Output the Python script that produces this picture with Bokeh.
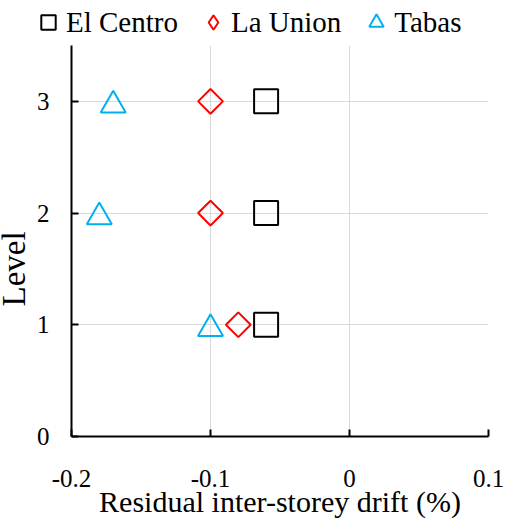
import math
from bokeh.plotting import figure
from bokeh.layouts import column, row
from bokeh.models import (ColumnDataSource, FixedTicker, Legend, LegendItem, Label)
from bokeh.transform import dodge
from bokeh.embed import file_html
from bokeh.resources import INLINE

# ---- data ----
levels = [1, 2, 3]
el_centro = [-0.06, -0.06, -0.06]
la_union = [-0.08, -0.10, -0.10]
tabas = [-0.10, -0.18, -0.17]
series_names = ["El Centro", "La Union", "Tabas"]
series_colors = ["black", "#ff0000", "#00b0f0"]
x_ticks = [-0.2, -0.1, 0, 0.1]
x_tick_labels = ["-0.2", "-0.1", "0", "0.1"]
y_ticks = [0, 1, 2, 3]
x_title = "Residual inter-storey drift (%)"
y_title = "Level"

FONT = "Liberation Serif"


def bare(width, height, **kw):
    f = figure(width=width, height=height, output_backend="svg",
               toolbar_location=None, x_axis_type=None, y_axis_type=None,
               min_border=0, min_border_left=0, min_border_right=0,
               min_border_top=0, min_border_bottom=0, **kw)
    f.title.visible = False
    f.outline_line_color = None
    return f


# ---- main plot ----
p = figure(frame_width=417, frame_height=391, x_range=(-0.2, 0.1), y_range=(0, 3.5),
           output_backend="svg", toolbar_location=None,
           min_border_left=39, min_border_right=22, min_border_top=0,
           min_border_bottom=90)
p.title.visible = False
p.outline_line_color = None
p.background_fill_color = "white"

src = ColumnDataSource(dict(level=levels, el=el_centro, lu=la_union, tb=tabas,
                            ang=[math.pi / 4] * len(levels)))

p.scatter("el", "level", source=src, marker="square", size=24,
          fill_color=None, line_color=series_colors[0], line_width=2)
p.scatter("lu", "level", source=src, marker="square", angle="ang",
          size=17.5, fill_color=None, line_color=series_colors[1], line_width=2)
p.scatter("tb", dodge("level", -0.035, range=p.y_range), source=src,
          marker="triangle", size=25, fill_color=None,
          line_color=series_colors[2], line_width=2)

for ax in (p.xaxis[0], p.yaxis[0]):
    ax.axis_line_width = 2
    ax.axis_line_color = "black"
    ax.major_tick_in = 7
    ax.major_tick_out = 0
    ax.major_tick_line_width = 2
    ax.major_tick_line_color = "black"
    ax.minor_tick_line_color = None
    ax.major_label_text_font = FONT
    ax.major_label_text_font_size = "25px"
    ax.major_label_text_color = "black"

p.xaxis.ticker = FixedTicker(ticks=x_ticks)
p.xaxis.major_label_overrides = {t: l for t, l in zip(x_ticks, x_tick_labels)}
p.xaxis.major_label_standoff = 33
p.xaxis.axis_label = x_title
p.xaxis.axis_label_text_font = FONT
p.xaxis.axis_label_text_font_size = "30px"
p.xaxis.axis_label_text_font_style = "normal"
p.xaxis.axis_label_text_color = "black"
p.xaxis.axis_label_standoff = -5

p.yaxis.ticker = FixedTicker(ticks=y_ticks)
p.yaxis.major_label_standoff = 22

p.xgrid.ticker = FixedTicker(ticks=x_ticks)
p.ygrid.ticker = FixedTicker(ticks=y_ticks)
p.xgrid.grid_line_color = "#d9d9d9"
p.ygrid.grid_line_color = "#d9d9d9"
p.xgrid.grid_line_width = 1
p.ygrid.grid_line_width = 1

# ---- y title panel (shares the level scale, centred on levels 0..3) ----
lv = bare(32, 481, x_range=(0, 1), y_range=p.y_range)
lv.add_layout(Label(x=13, y=(y_ticks[0] + y_ticks[-1]) / 2, x_units="screen",
                    y_units="data", text=y_title, angle=math.pi / 2,
                    text_align="center", text_baseline="middle", text_font=FONT,
                    text_font_size="33px", text_color="black"))

# ---- legend panel (legend renderers draw nothing inside this panel) ----
lg = bare(510, 45, x_range=(1, 2), y_range=(1, 2))
l1 = lg.scatter("el", "level", source=src, marker="square", fill_color=None,
                line_color=series_colors[0], line_width=2)
l2 = lg.scatter("lu", "level", source=src, marker="diamond", fill_color=None,
                line_color=series_colors[1], line_width=2)
l3 = lg.scatter("tb", "level", source=src, marker="triangle", fill_color=None,
                line_color=series_colors[2], line_width=2)
legend = Legend(items=[LegendItem(label=series_names[0], renderers=[l1]),
                       LegendItem(label=series_names[1], renderers=[l2]),
                       LegendItem(label=series_names[2], renderers=[l3])],
                orientation="horizontal", location=(30, 3),
                glyph_width=36, glyph_height=40, label_height=40,
                label_standoff=0, spacing=17, padding=0, margin=0,
                border_line_color=None, background_fill_alpha=0,
                label_text_font=FONT, label_text_font_size="29px",
                label_text_color="black")
lg.add_layout(legend)

layout = column(lg, row(lv, p, spacing=0), spacing=0)

open("out.html", "w").write(file_html(layout, INLINE))
